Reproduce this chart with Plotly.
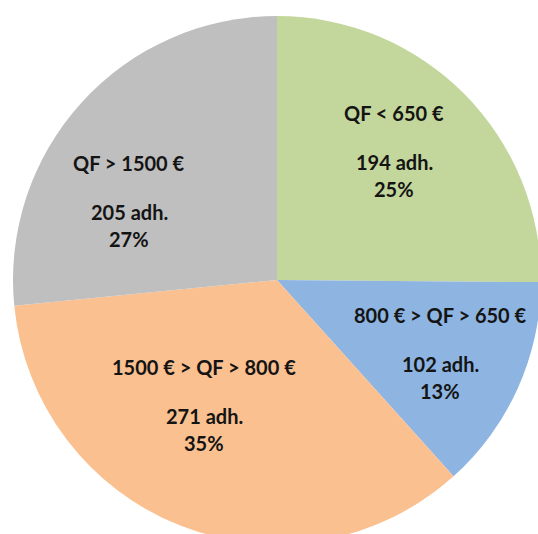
import plotly.graph_objects as go

# Data
labels = ["QF < 650 €", "800 € > QF > 650 €", "1500 € > QF > 800 €", "QF > 1500 €"]
counts = [194, 102, 271, 205]
percents = [25, 13, 35, 27]
colors = ["#C3D69B", "#8EB4E2", "#FAC090", "#BFBFBF"]

# Label anchor positions (pixels from top-left of the page)
label_px = [(394, 113), (440, 315), (204, 367), (129, 163)]
W, H = 545, 546
LINE1_GAP = 49
LINE2_GAP = 27

fig = go.Figure(go.Pie(
    labels=labels,
    values=counts,
    sort=False,
    direction="clockwise",
    rotation=0,
    marker=dict(colors=colors, line=dict(width=0)),
    textinfo="none",
    hoverinfo="skip",
    showlegend=False,
    domain=dict(x=[13 / W, 541 / W], y=[(H - 544) / H, (H - 16) / H]),
))

font = dict(family="Lato", size=20, color="#141414", weight="bold")
annotations = []
for lab, c, p, (px, py) in zip(labels, counts, percents, label_px):
    for txt, yy in [(lab, py), (f"{c} adh.", py + LINE1_GAP), (f"{p}%", py + LINE1_GAP + LINE2_GAP)]:
        annotations.append(dict(
            text=txt, x=px / W, y=1 - yy / H, xref="paper", yref="paper",
            xanchor="center", yanchor="middle", showarrow=False, font=font,
        ))

fig.update_layout(
    width=W, height=H,
    margin=dict(l=0, r=0, t=0, b=0),
    paper_bgcolor="white",
    plot_bgcolor="white",
    annotations=annotations,
)

fig.write_html(
    "out.html",
    config={"displayModeBar": False},
    post_script="document.body.style.margin='0';document.body.style.overflow='hidden';document.documentElement.style.overflow='hidden';",
)
